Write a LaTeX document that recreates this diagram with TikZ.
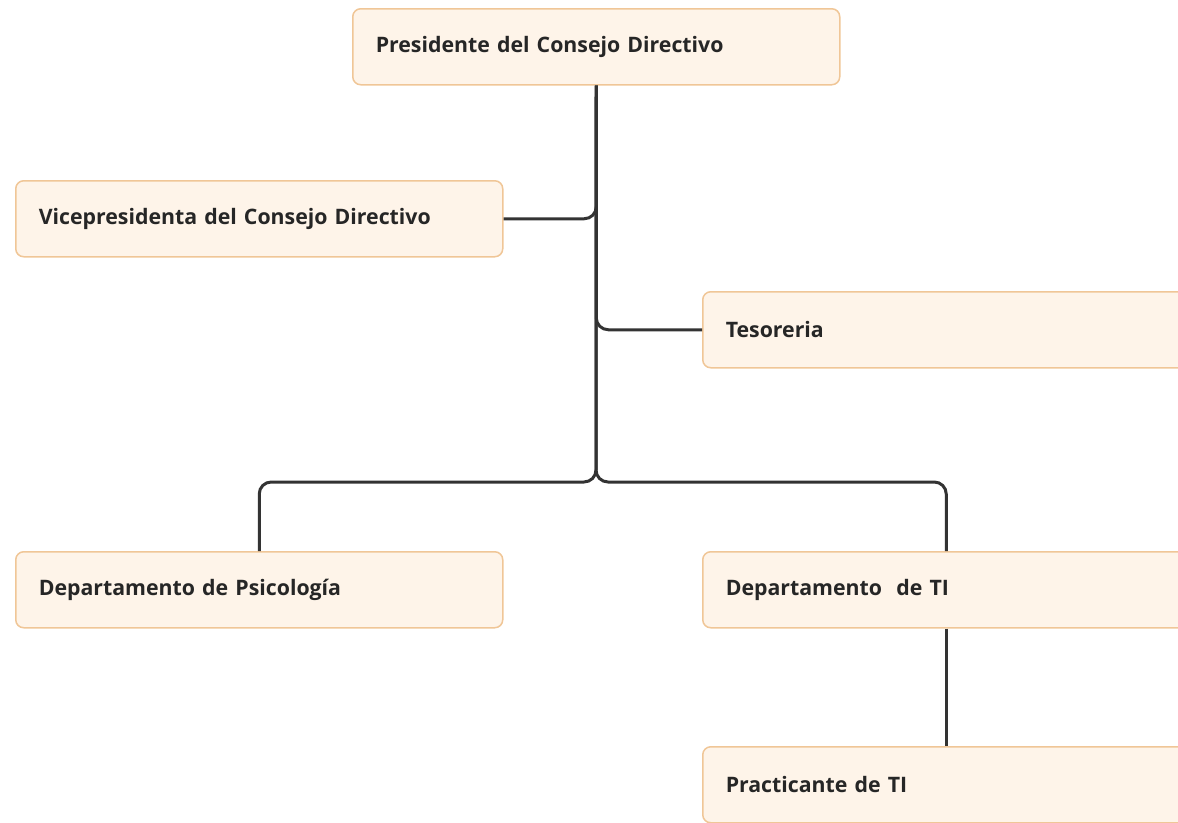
\documentclass[tikz,border=0pt]{standalone}
\usepackage{fontspec}
\setmainfont{Open Sans}
\usepackage{tikz}
\usetikzlibrary{positioning}
\definecolor{boxfill}{HTML}{FEF4E9}
\definecolor{boxline}{HTML}{F0C697}
\definecolor{link}{HTML}{333333}

\begin{document}
\begin{tikzpicture}[x=1pt, y=-1pt,
    unit/.style={draw=boxline, fill=boxfill, line width=1.5pt, rounded corners=8pt,
      anchor=north west, minimum width=487pt, minimum height=76pt,
      text width=441pt, inner xsep=23pt, align=left, text=black!85,
      font=\bfseries\fontsize{21.3}{25}\selectfont},
    link/.style={draw=link, line width=3pt, rounded corners=12pt}]

      \useasboundingbox (0,0) rectangle (1178,822);
      \clip (0,0) rectangle (1178,822);

      \node [unit] at (352, 8) (pres) {Presidente del Consejo Directivo};
      \node [unit] at (15, 180) (vice) {Vicepresidenta del Consejo Directivo};
      \node [unit] at (702, 291) (teso) {Tesoreria};
      \node [unit] at (15, 551) (psico) {Departamento de Psicología};
      \node [unit] at (702, 551) (depti) {Departamento~ de TI};
      \node [unit] at (702, 746) (pract) {Practicante de TI};

      \coordinate (split) at (596, 482);

      \draw [link] (pres.south) |- (vice.east);
      \draw [link] (pres.south) |- (teso.west);
      \draw [link] (pres.south) -- (split) -| (psico.north);
      \draw [link] (pres.south) -- (split) -| (depti.north);
      \draw [link] (depti.south) -- (pract.north);
    \end{tikzpicture}
\end{document}
